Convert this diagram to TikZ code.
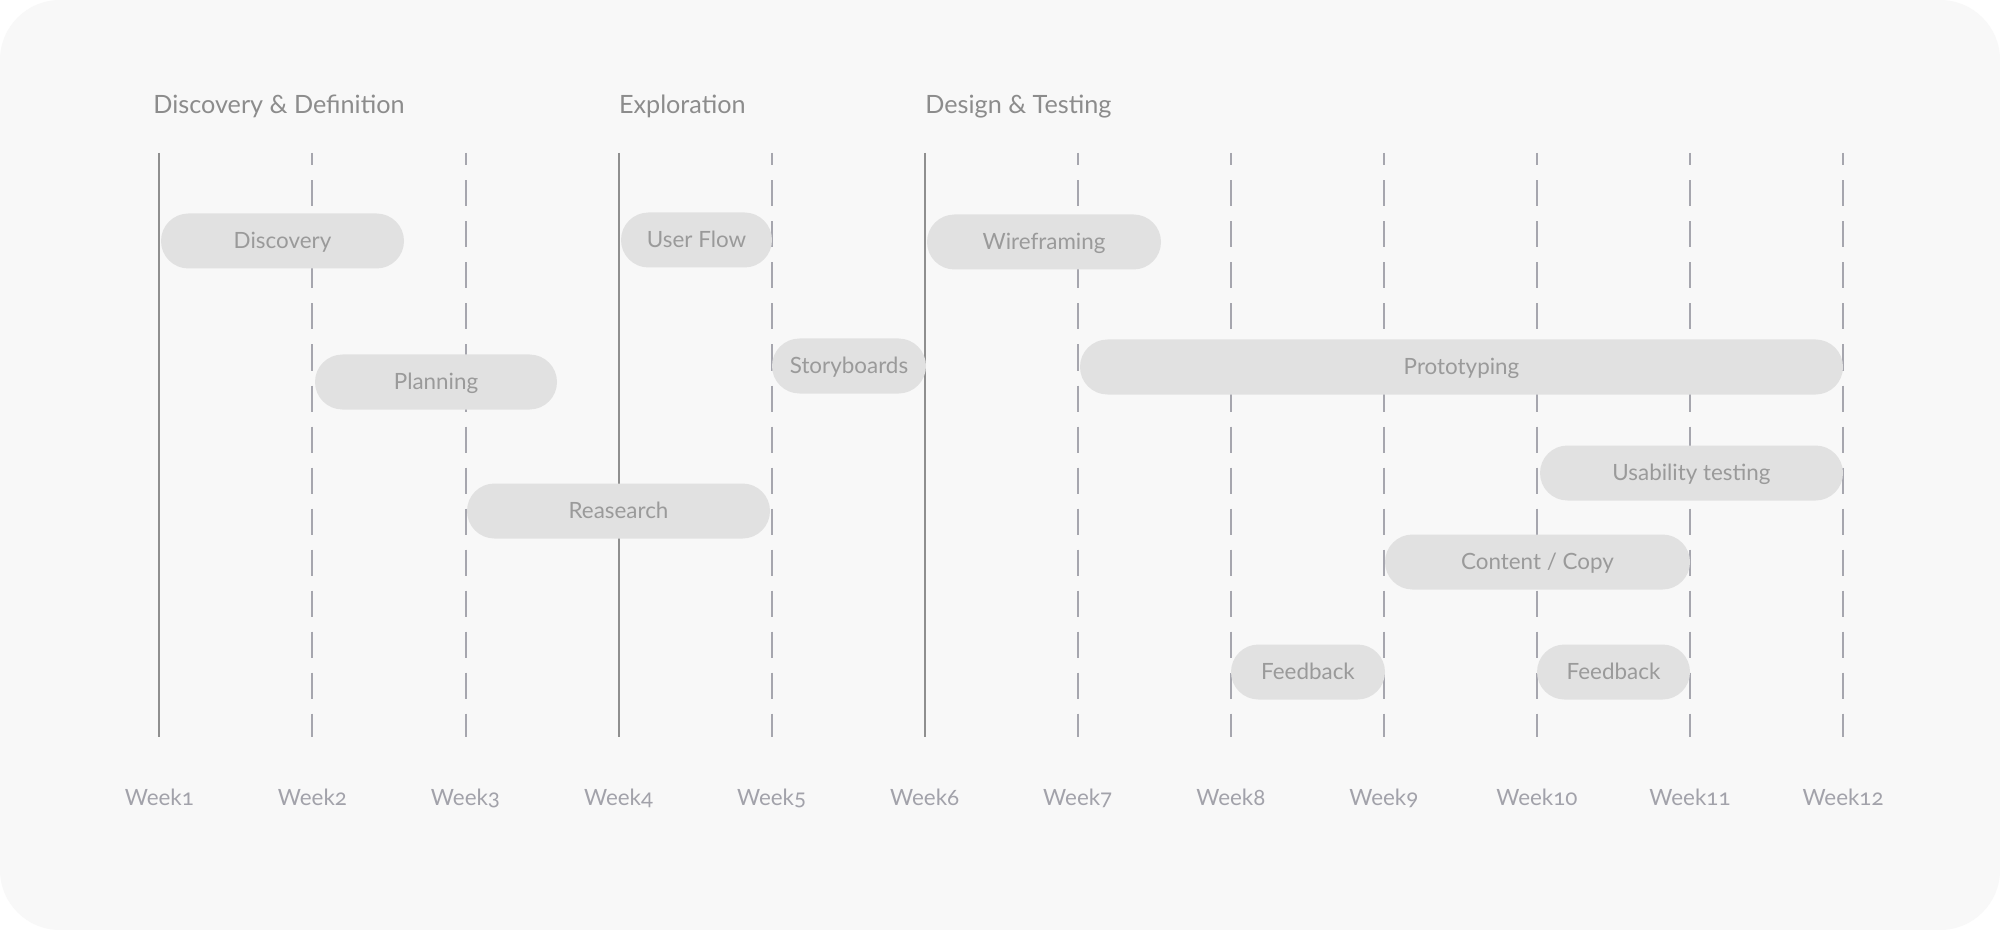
\documentclass[tikz,border=0pt]{standalone}
\usepackage{fontspec}
\setmainfont{Lato}
\newfontfamily\weekfont[Numbers=OldStyle]{Lato}
\definecolor{bgcol}{HTML}{F8F8F8}
\definecolor{barfill}{HTML}{E1E1E1}
\definecolor{bartext}{HTML}{9A9A9A}
\definecolor{headcol}{HTML}{8C8C8C}
\definecolor{weekcol}{HTML}{A2A2AA}
\definecolor{solidcol}{HTML}{8F8F8F}
\definecolor{dashcol}{HTML}{A6A6AE}
\tikzset{
  barbox/.style={fill=barfill, draw=none, rounded corners=13.75pt, minimum height=27.5pt, inner sep=0pt, text=bartext, text height=0.72em, text depth=0pt, font=\fontsize{11.2pt}{13pt}\selectfont},
  headtext/.style={anchor=base west, inner sep=0pt, text=headcol, font=\fontsize{12.6pt}{15pt}\selectfont},
  weektext/.style={anchor=base, inner sep=0pt, text=weekcol, font=\weekfont\fontsize{11.2pt}{13pt}\selectfont},
  solidline/.style={draw=solidcol, line width=1pt},
  dashline/.style={draw=dashcol, line width=1pt, dash pattern=on 13pt off 7.5pt, dash phase=6.75pt}
}
\newcommand\ganttbar[5]{\node[barbox, minimum width=#3*0.5pt] (#1) at (#2,#4) {#5};}
\begin{document}
\begin{tikzpicture}[x=0.5pt, y=-0.5pt]
\useasboundingbox (0,0) rectangle (2000,930);
\fill[white] (0,0) rectangle (2000,930);
\fill[bgcol, rounded corners=30pt] (0,0) rectangle (2000,930);
% week lines
\foreach \i in {1,...,12} {
  \pgfmathsetmacro\xx{159.4+153.06*(\i-1)}
  \coordinate (t\i) at (\xx,153);
  \coordinate (b\i) at (\xx,737);
  \node[weektext] (w\i) at (\xx,805) {Week\i};
}
\foreach \i in {1,4,6} { \draw[solidline] (t\i) -- (b\i); }
\foreach \i in {2,3,5,7,8,9,10,11,12} { \draw[dashline] (t\i) -- (b\i); }
% headers
\node[headtext] (h1) at (153,114) {Discovery \& Definition};
\node[headtext] (h2) at (618.6,114) {Exploration};
\node[headtext] (h3) at (925,114) {Design \& Testing};
% bars: name, center x, width, center y, text
\ganttbar{discovery}{282.5}{243}{241}{Discovery}
\ganttbar{userflow}{696.5}{151}{240}{User Flow}
\ganttbar{wire}{1044}{234}{242}{Wireframing}
\ganttbar{planning}{436}{242}{382}{Planning}
\ganttbar{story}{849}{154}{366}{Storyboards}
\ganttbar{proto}{1461.5}{763}{367}{Prototyping}
\ganttbar{research}{618.5}{303}{511}{Reasearch}
\ganttbar{usability}{1691.5}{303}{473}{Usability testing}
\ganttbar{content}{1537.5}{305}{562}{Content / Copy}
\ganttbar{feedbacka}{1308}{154}{672}{Feedback}
\ganttbar{feedbackb}{1613.5}{153}{672}{Feedback}
\end{tikzpicture}
\end{document}
